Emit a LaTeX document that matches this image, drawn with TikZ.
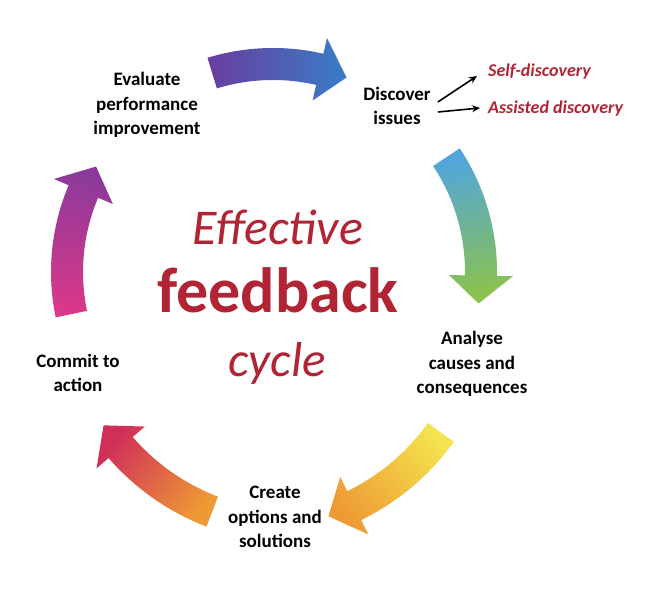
\documentclass[tikz,border=0pt]{standalone}
\usepackage{fontspec}
\setmainfont{Carlito}
\usetikzlibrary{calc,arrows.meta}

\definecolor{fbred}{RGB}{176,36,52}
\definecolor{evalpurple}{RGB}{104,62,160}
\definecolor{discblue}{RGB}{58,124,198}
\definecolor{skyblue}{RGB}{80,166,220}
\definecolor{leafgreen}{RGB}{140,194,76}
\definecolor{sunyellow}{RGB}{244,226,78}
\definecolor{orangeish}{RGB}{238,154,52}
\definecolor{crimson}{RGB}{208,48,88}
\definecolor{pinkish}{RGB}{218,56,136}
\definecolor{plum}{RGB}{138,58,156}

% curved band arrow: center, radius, tail angle, head angle, tail colour, head colour
\newcommand{\cycarrow}[6]{%
  \pgfmathsetmacro{\tipang}{#4-28/#2*180/pi}
  \pgfmathsetmacro{\shang}{(#3+\tipang)/2-180}
  \path[bottom color=#5, top color=#6, shading angle=\shang]
    ($(#1)+(#3:#2+16)$) arc[start angle=#3, end angle=#4, radius=#2+16]
    -- ($(#1)+(#4:#2+32)$) -- ($(#1)+(\tipang:#2)$) -- ($(#1)+(#4:#2-32)$)
    -- ($(#1)+(#4:#2-16)$) arc[start angle=#4, end angle=#3, radius=#2-16] -- cycle;
}

\tikzset{
  lbl/.style={font=\bfseries\fontsize{19}{24.5}\selectfont, align=center, inner sep=2pt},
  side/.style={font=\bfseries\itshape\fontsize{18}{22}\selectfont, text=fbred, anchor=west, inner sep=0pt},
  pointer/.style={-{Stealth[length=8pt,width=7pt]}, line width=1.6pt, black}
}

\begin{document}
\begin{tikzpicture}[x=1pt,y=1pt]
\useasboundingbox[fill=white] (0,0) rectangle (651,594);

\coordinate (c0) at (273,322);
\coordinate (cbr) at (253,296);
\coordinate (cbl) at (295,298);

% the five arrows of the cycle
\cycarrow{c0}{208}{107}{77}{evalpurple}{discblue}
\cycarrow{c0}{208}{33.5}{-1}{skyblue}{leafgreen}
\cycarrow{cbr}{231}{-35.6}{-64}{sunyellow}{orangeish}
\cycarrow{cbl}{231}{-111}{-139}{orangeish}{crimson}
\cycarrow{c0}{206}{191.8}{157}{pinkish}{plum}

% steps
\node[lbl] (eval) at (147,489) {Evaluate\\performance\\improvement};
\node[lbl] (disc) at (397,488) {Discover\\issues};
\node[lbl] (anal) at (472,230) {Analyse\\causes and\\consequences};
\node[lbl] (crea) at (275,77) {Create\\options and\\solutions};
\node[lbl] (comm) at (78,221) {Commit to\\action};

\node[side] (self) at (488,522) {Self-discovery};
\node[side] (assi) at (488,485) {Assisted discovery};
\draw[pointer] ([shift={(5,4)}]disc.east) -- ([shift={(-11,-4)}]self.west);
\draw[pointer] ([shift={(5,-6)}]disc.east) -- ([shift={(-8,1)}]assi.west);

% title in the middle
\node[anchor=base, text=fbred, font=\itshape\fontsize{50}{54}\selectfont] (eff) at (278,349) {Effective};
\node[anchor=base, text=fbred, font=\bfseries\fontsize{64}{68}\selectfont] (fb) at (278,281) {feedback};
\node[anchor=base, text=fbred, font=\itshape\fontsize{49}{53}\selectfont] (cyc) at (277,217) {cycle};
\end{tikzpicture}
\end{document}
